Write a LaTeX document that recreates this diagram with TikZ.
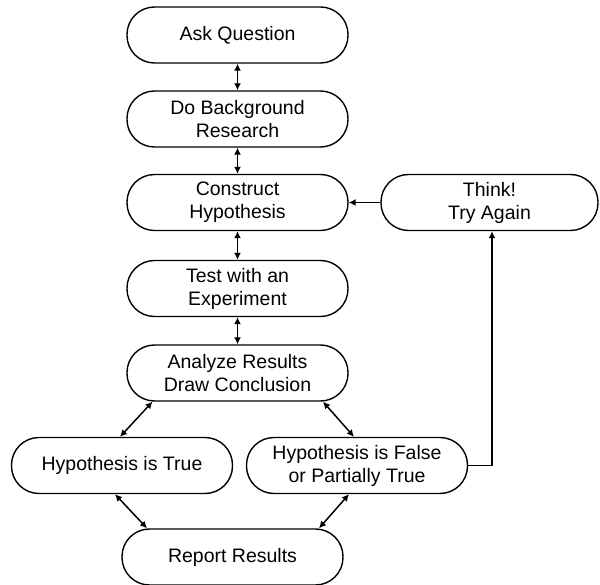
\documentclass[tikz,border=0pt]{standalone}
\usepackage{fontspec}
\setmainfont{Liberation Sans}
\usetikzlibrary{arrows.meta}
\begin{document}
\begin{tikzpicture}[x=1pt,y=1pt,
  stadium/.style={draw=black, line width=1.4pt, rounded corners=27.5pt,
    minimum width=221pt, minimum height=56pt, inner sep=0pt, align=center,
    font=\fontsize{19.5}{23}\selectfont},
  link/.style={line width=1.5pt, {Latex[length=7pt,width=7pt]}-{Latex[length=7pt,width=7pt]}},
  oneway/.style={line width=1.5pt, -{Latex[length=7pt,width=7pt]}}]
\useasboundingbox (0,0) rectangle (600,-585);
\node[stadium] (ask)   at (237.5,-35)    {Ask Question};
\node[stadium] (dobr)  at (237.5,-119)   {Do Background\\Research};
\node[stadium] (con)   at (237.5,-202.5) {Construct\\Hypothesis};
\node[stadium] (test)  at (237.5,-288.5) {Test with an\\Experiment};
\node[stadium] (ana)   at (237.5,-373)   {Analyze Results\\Draw Conclusion};
\node[stadium] (ht)    at (122,-465.5)   {Hypothesis is True};
\node[stadium] (hf)    at (357,-465.5)   {Hypothesis is False\\or Partially True};
\node[stadium] (rep)   at (232.5,-557)   {Report Results};
\node[stadium, minimum width=217pt] (think) at (489.5,-202.5) {Think!\\Try Again};

\draw[link] (ask) -- (dobr);
\draw[link] (dobr) -- (con);
\draw[link] (con) -- (test);
\draw[link] (test) -- (ana);
\draw[link] ([xshift=-85pt]ana.south) -- ([xshift=-2pt]ht.north);
\draw[link] ([xshift=85.5pt]ana.south) -- ([xshift=-3pt]hf.north);
\draw[link] ([xshift=-7pt]ht.south) -- ([xshift=-85.5pt]rep.north);
\draw[link] ([xshift=-8pt]hf.south) -- ([xshift=86.5pt]rep.north);
\draw[oneway] (hf.east) -| ([xshift=2.5pt]think.south);
\draw[oneway] (think.west) -- (con.east);
\end{tikzpicture}
\end{document}
